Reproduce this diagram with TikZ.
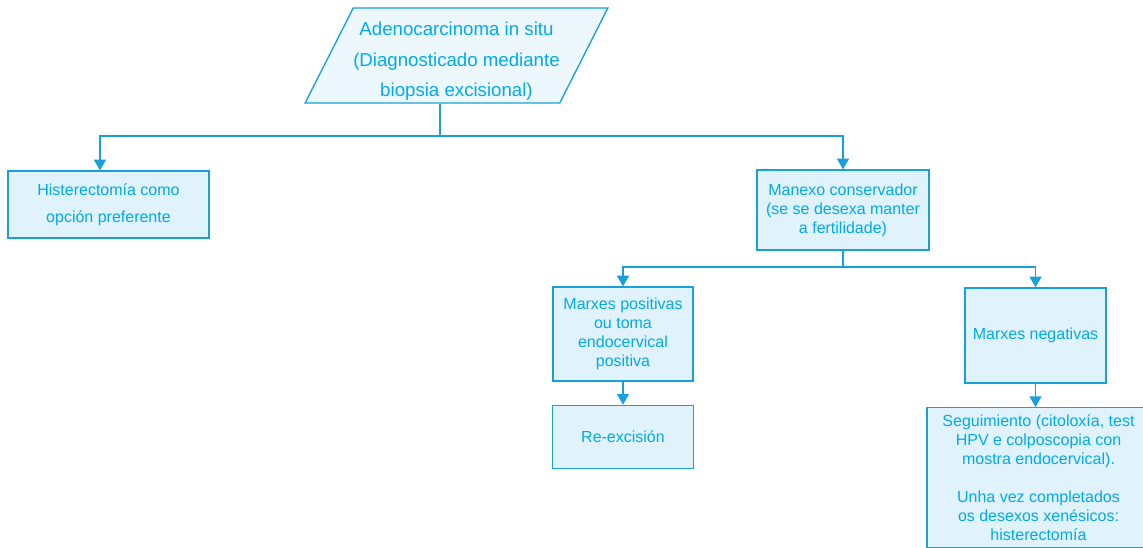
\documentclass[tikz,border=0pt]{standalone}
\usepackage{fontspec}
\setmainfont{Liberation Sans}
\usetikzlibrary{arrows.meta, positioning, shapes.geometric, calc}
\definecolor{FlowCyan}{RGB}{0,170,235}
\definecolor{FlowLine}{RGB}{25,160,220}
\definecolor{FlowFill}{RGB}{224,242,252}
\definecolor{FlowPale}{RGB}{236,248,254}
\tikzset{
  stepbox/.style={rectangle, draw=FlowLine, fill=FlowFill, line width=1pt,
                  text=FlowCyan, align=center, inner sep=0pt,
                  font=\fontsize{12}{14.25}\selectfont},
  startbox/.style={trapezium, trapezium left angle=62, trapezium right angle=118,
                   trapezium stretches body, draw=FlowLine, fill=FlowPale,
                   line width=1pt, text=FlowCyan, align=center, inner sep=0pt,
                   font=\fontsize{14}{23}\selectfont},
  arr/.style={-{Triangle[length=8pt, width=9pt]}, line width=1pt, draw=FlowLine},
  link/.style={line width=1pt, draw=FlowLine},
}

\begin{document}
\begin{tikzpicture}[x=0.75pt, y=-0.75pt]
  \useasboundingbox (0,0) rectangle (1143,547);
  \clip (0,0) rectangle (1143,547);

  \node[startbox, minimum width=221.25pt, minimum height=71.25pt] (start) at (456.5,55.5)
        {\rule{0pt}{19pt}Adenocarcinoma in situ\\(Diagnosticado mediante\\biopsia excisional)};

  \node[stepbox, minimum width=150.75pt, minimum height=50.25pt,
        font=\fontsize{12}{20}\selectfont] (hist) at (108.5,204.5)
        {Histerectomía como\\opción preferente};
  \node[stepbox, minimum width=129pt, minimum height=60pt] (cons) at (843,210)
        {Manexo conservador\\(se se desexa manter\\a fertilidade)};

  \node[stepbox, minimum width=105pt, minimum height=70.5pt] (pos) at (623,334)
        {Marxes positivas\\ou toma\\endocervical\\positiva};
  \node[stepbox, minimum width=105.75pt, minimum height=71.25pt] (neg) at (1035.5,335.5)
        {Marxes negativas};

  \node[stepbox, minimum width=105.75pt, minimum height=47.25pt, below=17.25pt of pos] (reex)
        {Re-excisión};
  \node[stepbox, minimum width=167.25pt, minimum height=105pt, anchor=north] (seg) at (1038.5,407)
        {Seguimiento (citoloxía, test\\HPV e colposcopia con\\mostra endocervical).\\[14.25pt]
         Unha vez completados\\os desexos xenésicos:\\histerectomía};

  % first split
  \coordinate (split1) at (440,136);
  \draw[link] (split1 |- start.south) -- (split1);
  \draw[arr] (split1) -| ([xshift=-6.4pt]hist.north);
  \draw[arr] (split1) -| (cons.north);

  % second split
  \coordinate (split2) at (843,267);
  \draw[link] (cons.south) -- (split2);
  \draw[arr] (split2) -| (pos.north);
  \draw[arr] (split2) -| (neg.north);

  \draw[arr] (pos.south) -- (reex.north);
  \draw[arr] (neg.south) -- (neg.south |- seg.north);
\end{tikzpicture}
\end{document}
